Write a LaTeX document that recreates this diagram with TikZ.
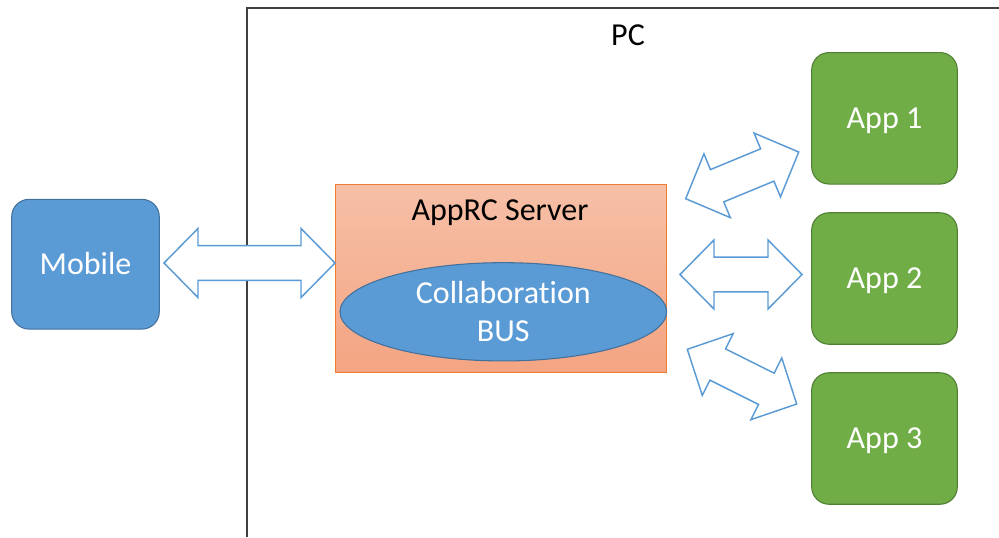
\documentclass[tikz,border=0pt]{standalone}
\usepackage{fontspec}
\setmainfont{Carlito}[Ligatures=NoCommon]
\usetikzlibrary{calc,shapes.geometric}

\definecolor{blueFill}{HTML}{5B9BD5}
\definecolor{blueLine}{HTML}{41719C}
\definecolor{greenFill}{HTML}{70AD47}
\definecolor{greenLine}{HTML}{507E32}
\definecolor{orangeLine}{HTML}{ED7D31}
\definecolor{orangeTop}{HTML}{F6C0A7}
\definecolor{orangeBot}{HTML}{F4A482}
\definecolor{frameGray}{HTML}{404040}

% block double arrow geometry
\newcommand{\arrHeadLen}{25.5pt}
\newcommand{\arrHeadHalf}{25.9pt}
\newcommand{\arrShaftHalf}{13.1pt}

\newcommand{\dblarrow}[2]{%
  \path (#1) coordinate (da-a) (#2) coordinate (da-b);
  \path ($(da-a)!\arrHeadLen!(da-b)$) coordinate (da-p)
        ($(da-b)!\arrHeadLen!(da-a)$) coordinate (da-q);
  \draw[blockarrow] (da-a)
    -- ($(da-p)!\arrHeadHalf!90:(da-b)$)
    -- ($(da-p)!\arrShaftHalf!90:(da-b)$)
    -- ($(da-q)!\arrShaftHalf!-90:(da-a)$)
    -- ($(da-q)!\arrHeadHalf!-90:(da-a)$)
    -- (da-b)
    -- ($(da-q)!\arrHeadHalf!90:(da-a)$)
    -- ($(da-q)!\arrShaftHalf!90:(da-a)$)
    -- ($(da-p)!\arrShaftHalf!-90:(da-b)$)
    -- ($(da-p)!\arrHeadHalf!-90:(da-b)$)
    -- cycle;
}

\tikzset{
  u/.style={x=0.75pt,y=-0.75pt},
  txt/.style={font=\fontsize{24}{28.3}\selectfont},
  roundbox/.style={rectangle, rounded corners=13pt, line width=0.8pt,
    minimum width=110.7pt, minimum height=98.6pt, inner sep=0pt,
    text=white, txt, text height=15.2pt, text depth=0pt},
  mobilebox/.style={roundbox, fill=blueFill, draw=blueLine, minimum height=97.3pt},
  appbox/.style={roundbox, fill=greenFill, draw=greenLine, minimum width=109.2pt},
  blockarrow/.style={draw=blueFill, fill=white, line width=1.1pt, line join=miter},
}

\begin{document}
\begin{tikzpicture}[u]
  \useasboundingbox (0,0) rectangle (999,537);
  \fill[white] (0,0) rectangle (999,537);

  % PC frame (open at right and bottom)
  \draw[frameGray, line width=1.2pt] (247,537) -- (247,8) -- (999,8);
  \node[txt, anchor=base] (pc) at (628,45) {PC};

  % left side
  \node[mobilebox] (mobile) at (85.5,264.2) {Mobile};

  % server
  \node[rectangle, draw=orangeLine, line width=0.8pt,
        top color=orangeTop, bottom color=orangeBot,
        minimum width=248.2pt, minimum height=141.5pt, inner sep=0pt]
        (server) at (501.2,278.4) {};
  \node[txt, anchor=base] (servertitle) at (500,220.3) {AppRC Server};
  \node[ellipse, fill=blueFill, draw=blueLine, line width=0.8pt,
        minimum width=245pt, minimum height=73.7pt, inner sep=0pt]
        (bus) at (503.3,311.8) {};
  \node[txt, text=white, align=center, anchor=base] (bustext) at (503.3,341)
        {Collaboration\\BUS};

  % applications
  \node[appbox] (app1) at (884.5,118.3) {App 1};
  \node[appbox] (app2) at (884.5,278.5) {App 2};
  \node[appbox] (app3) at (884.5,438.5) {App 3};

  % arrow end points
  \coordinate (m-l) at (164,263);
  \coordinate (m-r) at (335,263);
  \coordinate (a1-l) at (685.7,198.7);
  \coordinate (a1-r) at (798.7,152);
  \coordinate (a2-l) at (680,274.5);
  \coordinate (a2-r) at (802,274.5);
  \coordinate (a3-l) at (687.3,349.3);
  \coordinate (a3-r) at (796.7,404);

  \dblarrow{m-l}{m-r}
  \dblarrow{a1-l}{a1-r}
  \dblarrow{a2-l}{a2-r}
  \dblarrow{a3-l}{a3-r}
\end{tikzpicture}
\end{document}
